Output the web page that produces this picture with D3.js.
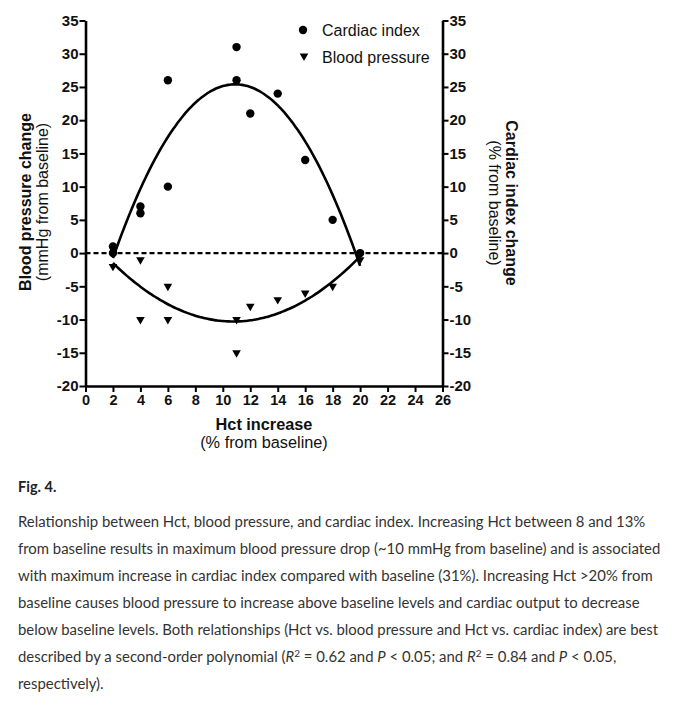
<!DOCTYPE html>
<html>
<head>
<meta charset="utf-8">
<script src="https://cdn.jsdelivr.net/npm/d3@7"></script>
<style>
  body { margin: 0; background: #fff; }
  svg { display: block; }
</style>
</head>
<body>
<svg id="chart" width="674" height="713"></svg>
<script>
// ---- data ----
const ciX = [2, 2, 4, 4, 6, 6, 11, 11, 12, 14, 16, 18, 20];
const ciY = [1, 0, 7, 6, 26, 10, 31, 26, 21, 24, 14, 5, 0];
const bpX = [2, 4, 4, 6, 6, 11, 11, 12, 14, 16, 18, 20];
const bpY = [-2, -1, -10, -5, -10, -10, -15, -8, -7, -6, -5, -1];
// second-order polynomial fits [a, b, c] : y = a x^2 + b x + c, drawn over fitRange
const ciFit = [-0.330, 7.194, -13.81];
const bpFit = [0.1147, -2.468, 2.98];
const fitRange = [2, 20];
const xTicks = [0, 2, 4, 6, 8, 10, 12, 14, 16, 18, 20, 22, 24, 26];
const yTicks = [-20, -15, -10, -5, 0, 5, 10, 15, 20, 25, 30, 35];
const legendLabels = ["Cardiac index", "Blood pressure"];
const captionLines = [
  "Relationship between Hct, blood pressure, and cardiac index. Increasing Hct between 8 and 13%",
  "from baseline results in maximum blood pressure drop (~10 mmHg from baseline) and is associated",
  "with maximum increase in cardiac index compared with baseline (31%). Increasing Hct >20% from",
  "baseline causes blood pressure to increase above baseline levels and cardiac output to decrease",
  "below baseline levels. Both relationships (Hct vs. blood pressure and Hct vs. cardiac index) are best"
];

const svg = d3.select("#chart");
svg.append("rect").attr("width", 674).attr("height", 713).attr("fill", "#fff");

const x = d3.scaleLinear().domain([0, 26]).range([85.5, 442.5]);
const y = d3.scaleLinear().domain([-20, 35]).range([386, 20.5]);
const axisFont = "'Liberation Sans', Arial, sans-serif";

function styleAxis(size) {
  return g => {
    g.select(".domain").attr("stroke", "#000").attr("stroke-width", 2.6);
    g.selectAll(".tick line").attr("stroke", "#000").attr("stroke-width", 2);
    g.selectAll(".tick text").attr("font-family", axisFont).attr("font-size", size)
      .attr("font-weight", "bold").attr("fill", "#111");
  };
}

// zero dashed line
svg.append("line")
  .attr("x1", x(0)).attr("x2", x(26)).attr("y1", y(0)).attr("y2", y(0))
  .attr("stroke", "#000").attr("stroke-width", 2.2).attr("stroke-dasharray", "5,3");

// axes
svg.append("g").attr("transform", `translate(${x(0)},0)`)
  .call(d3.axisLeft(y).tickValues(yTicks).tickFormat(d => String(d)).tickSize(6).tickSizeOuter(0).tickPadding(1))
  .call(styleAxis(15));
svg.append("g").attr("transform", `translate(${x(26)},0)`)
  .call(d3.axisRight(y).tickValues(yTicks).tickFormat(d => String(d)).tickSize(6).tickSizeOuter(0).tickPadding(1))
  .call(styleAxis(15));
svg.append("g").attr("transform", `translate(0,${y(-20)})`)
  .call(d3.axisBottom(x).tickValues(xTicks).tickFormat(d => String(d)).tickSize(6).tickSizeOuter(0).tickPadding(3))
  .call(styleAxis(14.5));

// fit curves
function fitPoints(c) {
  const pts = [];
  const n = 90;
  for (let i = 0; i <= n; i++) {
    const xv = fitRange[0] + (fitRange[1] - fitRange[0]) * i / n;
    pts.push([xv, c[0] * xv * xv + c[1] * xv + c[2]]);
  }
  return pts;
}
const line = d3.line().x(d => x(d[0])).y(d => y(d[1])).curve(d3.curveBasis);
[ciFit, bpFit].forEach(c => {
  svg.append("path").attr("d", line(fitPoints(c)))
    .attr("fill", "none").attr("stroke", "#000").attr("stroke-width", 2.6);
});

// points
const tri = d3.symbol().type(d3.symbolTriangle).size(32);
svg.append("g").selectAll("path").data(bpX.map((v, i) => [v, bpY[i]])).join("path")
  .attr("d", tri).attr("transform", d => `translate(${x(d[0])},${y(d[1])}) rotate(180)`)
  .attr("fill", "#000");
svg.append("g").selectAll("circle").data(ciX.map((v, i) => [v, ciY[i]])).join("circle")
  .attr("cx", d => x(d[0])).attr("cy", d => y(d[1])).attr("r", 4.2).attr("fill", "#000");

// legend
const lg = svg.append("g");
lg.append("circle").attr("cx", 303).attr("cy", 30).attr("r", 4.2).attr("fill", "#000");
lg.append("path").attr("d", tri).attr("transform", "translate(304,56) rotate(180)").attr("fill", "#000");
lg.selectAll("text").data(legendLabels).join("text")
  .attr("x", 322).attr("y", (d, i) => 30 + i * 27).attr("dy", "0.35em")
  .attr("font-family", axisFont).attr("font-size", 16).attr("fill", "#111").text(d => d);

// axis titles
const xt = svg.append("text").attr("text-anchor", "middle").attr("font-family", axisFont).attr("fill", "#111");
xt.append("tspan").attr("x", 264).attr("y", 430).attr("font-weight", "bold").attr("font-size", 16.3).text("Hct increase");
xt.append("tspan").attr("x", 264).attr("y", 448).attr("font-size", 16.3).text("(% from baseline)");

const lt = svg.append("text").attr("text-anchor", "middle").attr("font-family", axisFont).attr("fill", "#111")
  .attr("transform", "translate(0,202) rotate(-90)");
lt.append("tspan").attr("x", 0).attr("y", 31).attr("font-weight", "bold").attr("font-size", 16).text("Blood pressure change");
lt.append("tspan").attr("x", 0).attr("y", 48).attr("font-size", 16).text("(mmHg from baseline)");

const rt = svg.append("text").attr("text-anchor", "middle").attr("font-family", axisFont).attr("fill", "#111")
  .attr("transform", "translate(0,203) rotate(90)");
rt.append("tspan").attr("x", 0).attr("y", -506).attr("font-weight", "bold").attr("font-size", 16).text("Cardiac index change");
rt.append("tspan").attr("x", 0).attr("y", -489).attr("font-size", 16).text("(% from baseline)");

// caption
const capFont = "Lato, 'Open Sans', sans-serif";
const capSize = 14.9;
svg.append("text").attr("x", 18).attr("y", 492).attr("font-family", capFont)
  .attr("font-weight", "bold").attr("font-size", 14.5).attr("fill", "#222").text("Fig. 4.");
svg.append("g").selectAll("text").data(captionLines).join("text")
  .attr("x", 18).attr("y", (d, i) => 527 + i * 27).attr("font-family", capFont)
  .attr("font-size", capSize).attr("fill", "#333").text(d => d);
const l6 = svg.append("text").attr("x", 18).attr("y", 527 + 5 * 27).attr("font-family", capFont)
  .attr("font-size", capSize).attr("fill", "#333");
l6.append("tspan").text("described by a second-order polynomial (");
l6.append("tspan").attr("font-style", "italic").text("R");
l6.append("tspan").attr("font-size", 10).attr("dy", -5).text("2");
l6.append("tspan").attr("dy", 5).text(" = 0.62 and ");
l6.append("tspan").attr("font-style", "italic").text("P");
l6.append("tspan").text(" < 0.05; and ");
l6.append("tspan").attr("font-style", "italic").text("R");
l6.append("tspan").attr("font-size", 10).attr("dy", -5).text("2");
l6.append("tspan").attr("dy", 5).text(" = 0.84 and ");
l6.append("tspan").attr("font-style", "italic").text("P");
l6.append("tspan").text(" < 0.05,");
svg.append("text").attr("x", 18).attr("y", 527 + 6 * 27).attr("font-family", capFont)
  .attr("font-size", capSize).attr("fill", "#333").text("respectively).");
</script>
</body>
</html>
